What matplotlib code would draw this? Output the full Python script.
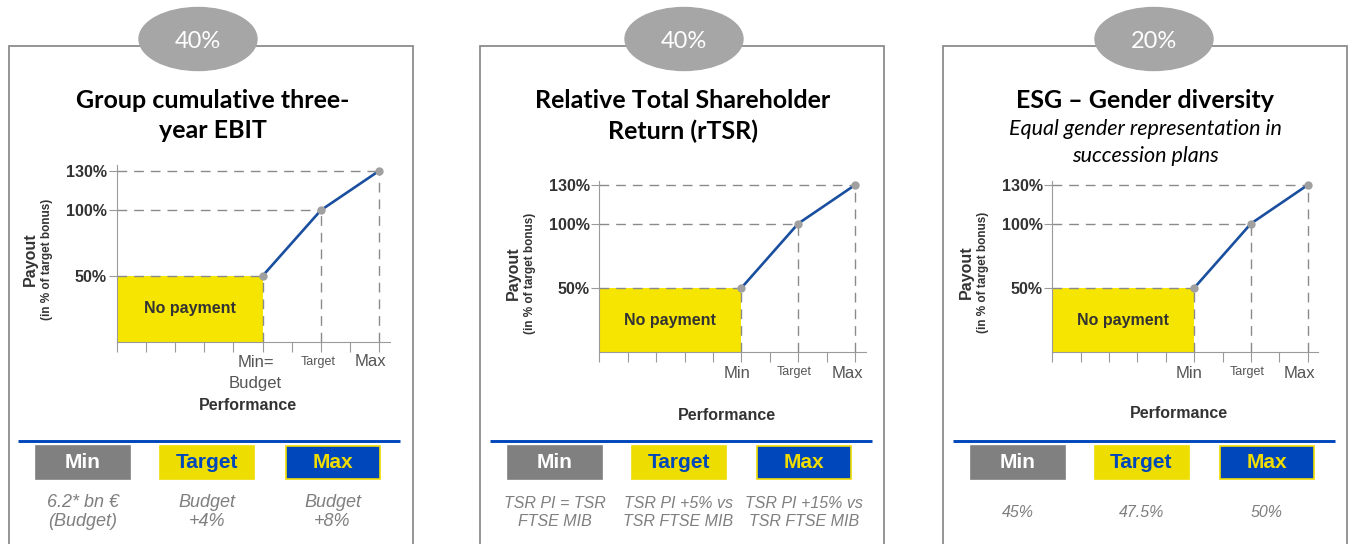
import numpy as np
import matplotlib
matplotlib.use("Agg")
import matplotlib.pyplot as plt
from matplotlib.patches import Rectangle, Ellipse

# ---- data ----
weights = ["40%", "40%", "20%"]
titles = [["Group cumulative three-", "year EBIT"],
          ["Relative Total Shareholder", "Return (rTSR)"],
          ["ESG \u2013 Gender diversity"]]
subtitles = [[], [], ["Equal gender representation in", "succession plans"]]
perf_labels = [["Min=\nBudget", "Target", "Max"],
               ["Min", "Target", "Max"],
               ["Min", "Target", "Max"]]
perf_pos = [5, 7, 9]          # Min, Target, Max on the performance scale
payout = [50, 100, 130]       # payout in % of target bonus
n_ticks = 10
levels = ["Min", "Target", "Max"]
level_desc = [["6.2* bn \u20ac\n(Budget)", "Budget\n+4%", "Budget\n+8%"],
              ["TSR PI = TSR\nFTSE MIB", "TSR PI +5% vs\nTSR FTSE MIB", "TSR PI +15% vs\nTSR FTSE MIB"],
              ["45%", "47.5%", "50%"]]

# ---- layout (pixels) ----
W, H = 1349, 544
panel_left = [8.5, 480, 943]
panel_w = 404
panel_top = 45.5
ell_cx = [198, 684, 1154]
title_cx = [213, 683, 1145]
# chart geometry: y-axis x, x=9 pixel, axis end, y=0 pixel, y=130 pixel, axis top
charts = [(116.7, 379.3, 390, 341.7, 170.7, 165),
          (599.3, 855.0, 866, 352.3, 185.0, 181),
          (1052.3, 1307.7, 1318, 352.3, 185.0, 181)]
payout_lab = [(30, 47, 259), (513, 530, 273), (966.7, 983.3, 272)]
perf_title = [(248, 405), (727, 415), (1179, 414)]
tick_lab_off = [[-7, -3, -9], [-4, -4, -8], [-5, -4, -8]]
tick_lab_y = [[362, 362, 362], [373, 372, 373], [373, 372, 373]]
desc_size = [13, 11.5, 11.5]
desc_y = [512, 512.5, 512.5]

GREY_BORDER = "#8c8c8c"
YELLOW = "#f5e500"
YELLOW_BOX = "#eedd00"
BLUE = "#0047bb"
LINE_BLUE = "#1a4f9f"
TXT = "#333333"

title_font = "Lato"
chart_font = "Liberation Sans"

fig = plt.figure(figsize=(W / 100, H / 100), dpi=100)
bg = fig.add_axes([0, 0, 1, 1])
bg.set_xlim(0, W)
bg.set_ylim(H, 0)
bg.axis("off")

for i in range(3):
    L = panel_left[i]
    R = L + panel_w
    # frame, open at the bottom
    bg.plot([L, L, R, R], [H + 5, panel_top, panel_top, H + 5],
            color=GREY_BORDER, lw=1.3, solid_joinstyle="miter", zorder=1)
    bg.add_patch(Ellipse((ell_cx[i], 39), 118, 63, color="#a6a6a6", zorder=2))
    bg.text(ell_cx[i], 42, weights[i], color="white", fontsize=17,
            family=title_font, ha="center", va="center", zorder=3)

    # title lines
    for j, line in enumerate(titles[i]):
        bg.text(title_cx[i], 100 + 31 * j, line, fontsize=18, fontweight="bold",
                family=title_font, ha="center", va="center")
    for j, line in enumerate(subtitles[i]):
        bg.text(title_cx[i], 129 + 27 * j, line, fontsize=15.5, style="italic",
                family=title_font, ha="center", va="center")

    # payout curve
    x0, x9, xe, y0, y130, yt = charts[i]
    ux = (x9 - x0) / 9
    uy = (y0 - y130) / 130
    ax = fig.add_axes([x0 / W, (H - y0) / H, (xe - x0) / W, (y0 - yt) / H])
    ax.set_xlim(0, (xe - x0) / ux)
    ax.set_ylim(0, (y0 - yt) / uy)
    ax.patch.set_alpha(0)
    for s in ["top", "right"]:
        ax.spines[s].set_visible(False)
    for s in ["left", "bottom"]:
        ax.spines[s].set_color("#9a9a9a")
        ax.spines[s].set_linewidth(0.8)
    ax.set_xticks(range(n_ticks))
    ax.set_xticklabels([])
    ax.tick_params(axis="x", length=7, width=0.8, color="#9a9a9a", direction="out")
    ax.set_yticks(payout)
    ax.set_yticklabels(["%d%%" % p for p in payout], fontsize=11.5,
                       fontweight="bold", color=TXT, family=chart_font)
    ax.tick_params(axis="y", length=6, width=0.8, color="#9a9a9a", pad=1)

    ax.add_patch(Rectangle((0, 0), perf_pos[0], payout[0], color=YELLOW, lw=0, zorder=1))
    ax.text(perf_pos[0] / 2, payout[0] / 2, "No payment", fontsize=11.5,
            fontweight="bold", color=TXT, family=chart_font, ha="center", va="center")
    for px, py in zip(perf_pos, payout):
        ax.plot([0, px], [py, py], color="#8a8a8a", lw=1, ls=(0, (7, 5)), zorder=2)
        ax.plot([px, px], [0, py], color="#8a8a8a", lw=1, ls=(0, (7, 5)), zorder=2)
    ax.plot(perf_pos, payout, color=LINE_BLUE, lw=1.9, zorder=3, clip_on=False)
    ax.scatter(perf_pos, payout, s=25, color="#a0a0a0", zorder=4, clip_on=False)

    for k, lab in enumerate(perf_labels[i]):
        xp = x0 + perf_pos[k] * ux + tick_lab_off[i][k]
        bg.text(xp, tick_lab_y[i][k] if "\n" not in lab else 373, lab,
                fontsize=9 if lab == "Target" else 12, color="#555555",
                family=chart_font, ha="center", va="center", linespacing=1.45)

    pl = payout_lab[i]
    bg.text(pl[0], pl[2], "Payout", rotation=90, fontsize=11.5, fontweight="bold",
            color=TXT, family=chart_font, ha="center", va="center")
    bg.text(pl[1], pl[2], "(in % of target bonus)", rotation=90, fontsize=8.5,
            fontweight="bold", color=TXT, family=chart_font, ha="center", va="center")
    bg.text(perf_title[i][0], perf_title[i][1], "Performance", fontsize=11.5,
            fontweight="bold", color=TXT, family=chart_font, ha="center", va="center")

    # Min / Target / Max summary
    bg.plot([L + 9.8, L + 391.5], [440.5, 440.5], color=BLUE, lw=2.1,
            solid_capstyle="butt")
    box_x = [27.5, 151.5, 277]
    face = ["#808080", YELLOW_BOX, BLUE]
    txtc = ["white", BLUE, "#f0dc00"]
    edge = ["#808080", YELLOW_BOX, "#f0dc00"]
    for k in range(3):
        bx = L + box_x[k]
        bg.add_patch(Rectangle((bx, 445.5), 94, 33.5, facecolor=face[k],
                               edgecolor=edge[k], lw=1.2))
        bg.text(bx + 47, 463, levels[k], fontsize=15, fontweight="bold",
                color=txtc[k], family=chart_font, ha="center", va="center")
        bg.text(bx + 47, desc_y[i], level_desc[i][k], fontsize=desc_size[i],
                style="italic", color="#7f7f7f", family=chart_font,
                ha="center", va="center", linespacing=1.2)

fig.savefig("out.png", dpi=100)
